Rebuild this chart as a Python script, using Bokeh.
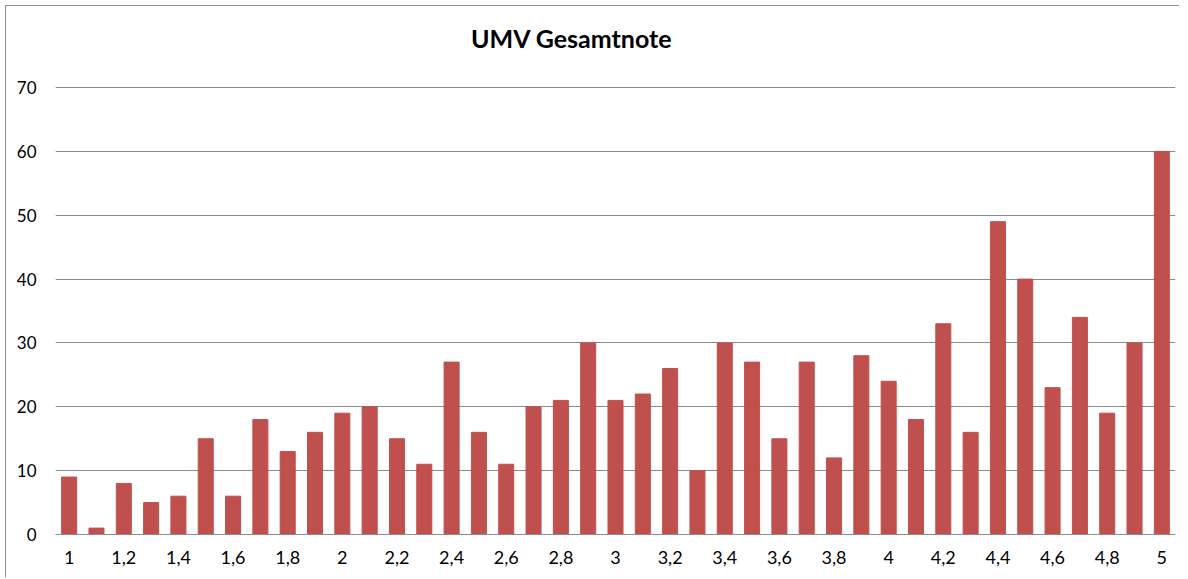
from bokeh.plotting import figure
from bokeh.models import FixedTicker, Label, CustomJSTickFormatter, ColumnDataSource
from bokeh.embed import file_html
from bokeh.resources import INLINE

categories = ["1", "1,1", "1,2", "1,3", "1,4", "1,5", "1,6", "1,7", "1,8", "1,9",
              "2", "2,1", "2,2", "2,3", "2,4", "2,5", "2,6", "2,7", "2,8", "2,9",
              "3", "3,1", "3,2", "3,3", "3,4", "3,5", "3,6", "3,7", "3,8", "3,9",
              "4", "4,1", "4,2", "4,3", "4,4", "4,5", "4,6", "4,7", "4,8", "4,9",
              "5"]
counts = [9, 1, 8, 5, 6, 15, 6, 18, 13, 16,
          19, 20, 15, 11, 27, 16, 11, 20, 21, 30,
          21, 22, 26, 10, 30, 27, 15, 27, 12, 28,
          24, 18, 33, 16, 49, 40, 23, 34, 19, 30,
          60]
y_ticks = [0, 10, 20, 30, 40, 50, 60, 70]
title_text = "UMV Gesamtnote"

FONT = "Lato"
GRID = "#8c8c8c"

x_vals = [float(c.replace(",", ".")) for c in categories]
x_labeled = x_vals[::2]
src = ColumnDataSource(dict(x=x_vals, top=counts, label=categories))

# frame extends above the top gridline (70) so the title can sit inside it
p = figure(width=1174, height=572, x_range=(0.95, 5.05),
           y_range=(0, 80.5), output_backend="svg", toolbar_location=None,
           min_border_left=49, min_border_right=5, min_border_top=14, min_border_bottom=44)

p.vbar(x="x", top="top", width=0.055, source=src, color="#C0504D", line_color="#C0504D")

p.title = None
title_label = Label(x=2.84, y=77.75, text=title_text, text_align="center", text_baseline="middle",
                    text_font=FONT, text_font_size="25px", text_font_style="bold",
                    text_color="#000000")
p.add_layout(title_label)

p.outline_line_color = None
p.background_fill_color = "white"
p.border_fill_color = "white"

p.xgrid.grid_line_color = None
p.ygrid.grid_line_color = GRID
p.ygrid.grid_line_width = 1
p.yaxis.ticker = FixedTicker(ticks=y_ticks)
p.ygrid.ticker = FixedTicker(ticks=y_ticks)

p.yaxis.axis_line_color = None
p.yaxis.major_tick_line_color = None
p.yaxis.minor_tick_line_color = None
p.yaxis.major_label_standoff = 13
p.yaxis.major_label_text_font = FONT
p.yaxis.major_label_text_font_size = "17px"
p.yaxis.major_label_text_color = "#000000"

p.xaxis.ticker = FixedTicker(ticks=x_labeled)
p.xaxis.formatter = CustomJSTickFormatter(
    code="return tick.toFixed(1).replace(/\\.0$/, '').replace('.', ',');")
p.xaxis.axis_line_color = GRID
p.xaxis.axis_line_width = 1
p.xaxis.major_tick_line_color = None
p.xaxis.minor_tick_line_color = None
p.xaxis.major_label_standoff = 10
p.xaxis.major_label_text_font = FONT
p.xaxis.major_label_text_font_size = "18px"
p.xaxis.major_label_text_color = "#000000"

p.styles = {"margin-left": "5px", "margin-top": "5px",
            "border-left": "1px solid #8c8c8c", "border-top": "1px solid #8c8c8c"}

open("out.html", "w").write(file_html(p, INLINE))
